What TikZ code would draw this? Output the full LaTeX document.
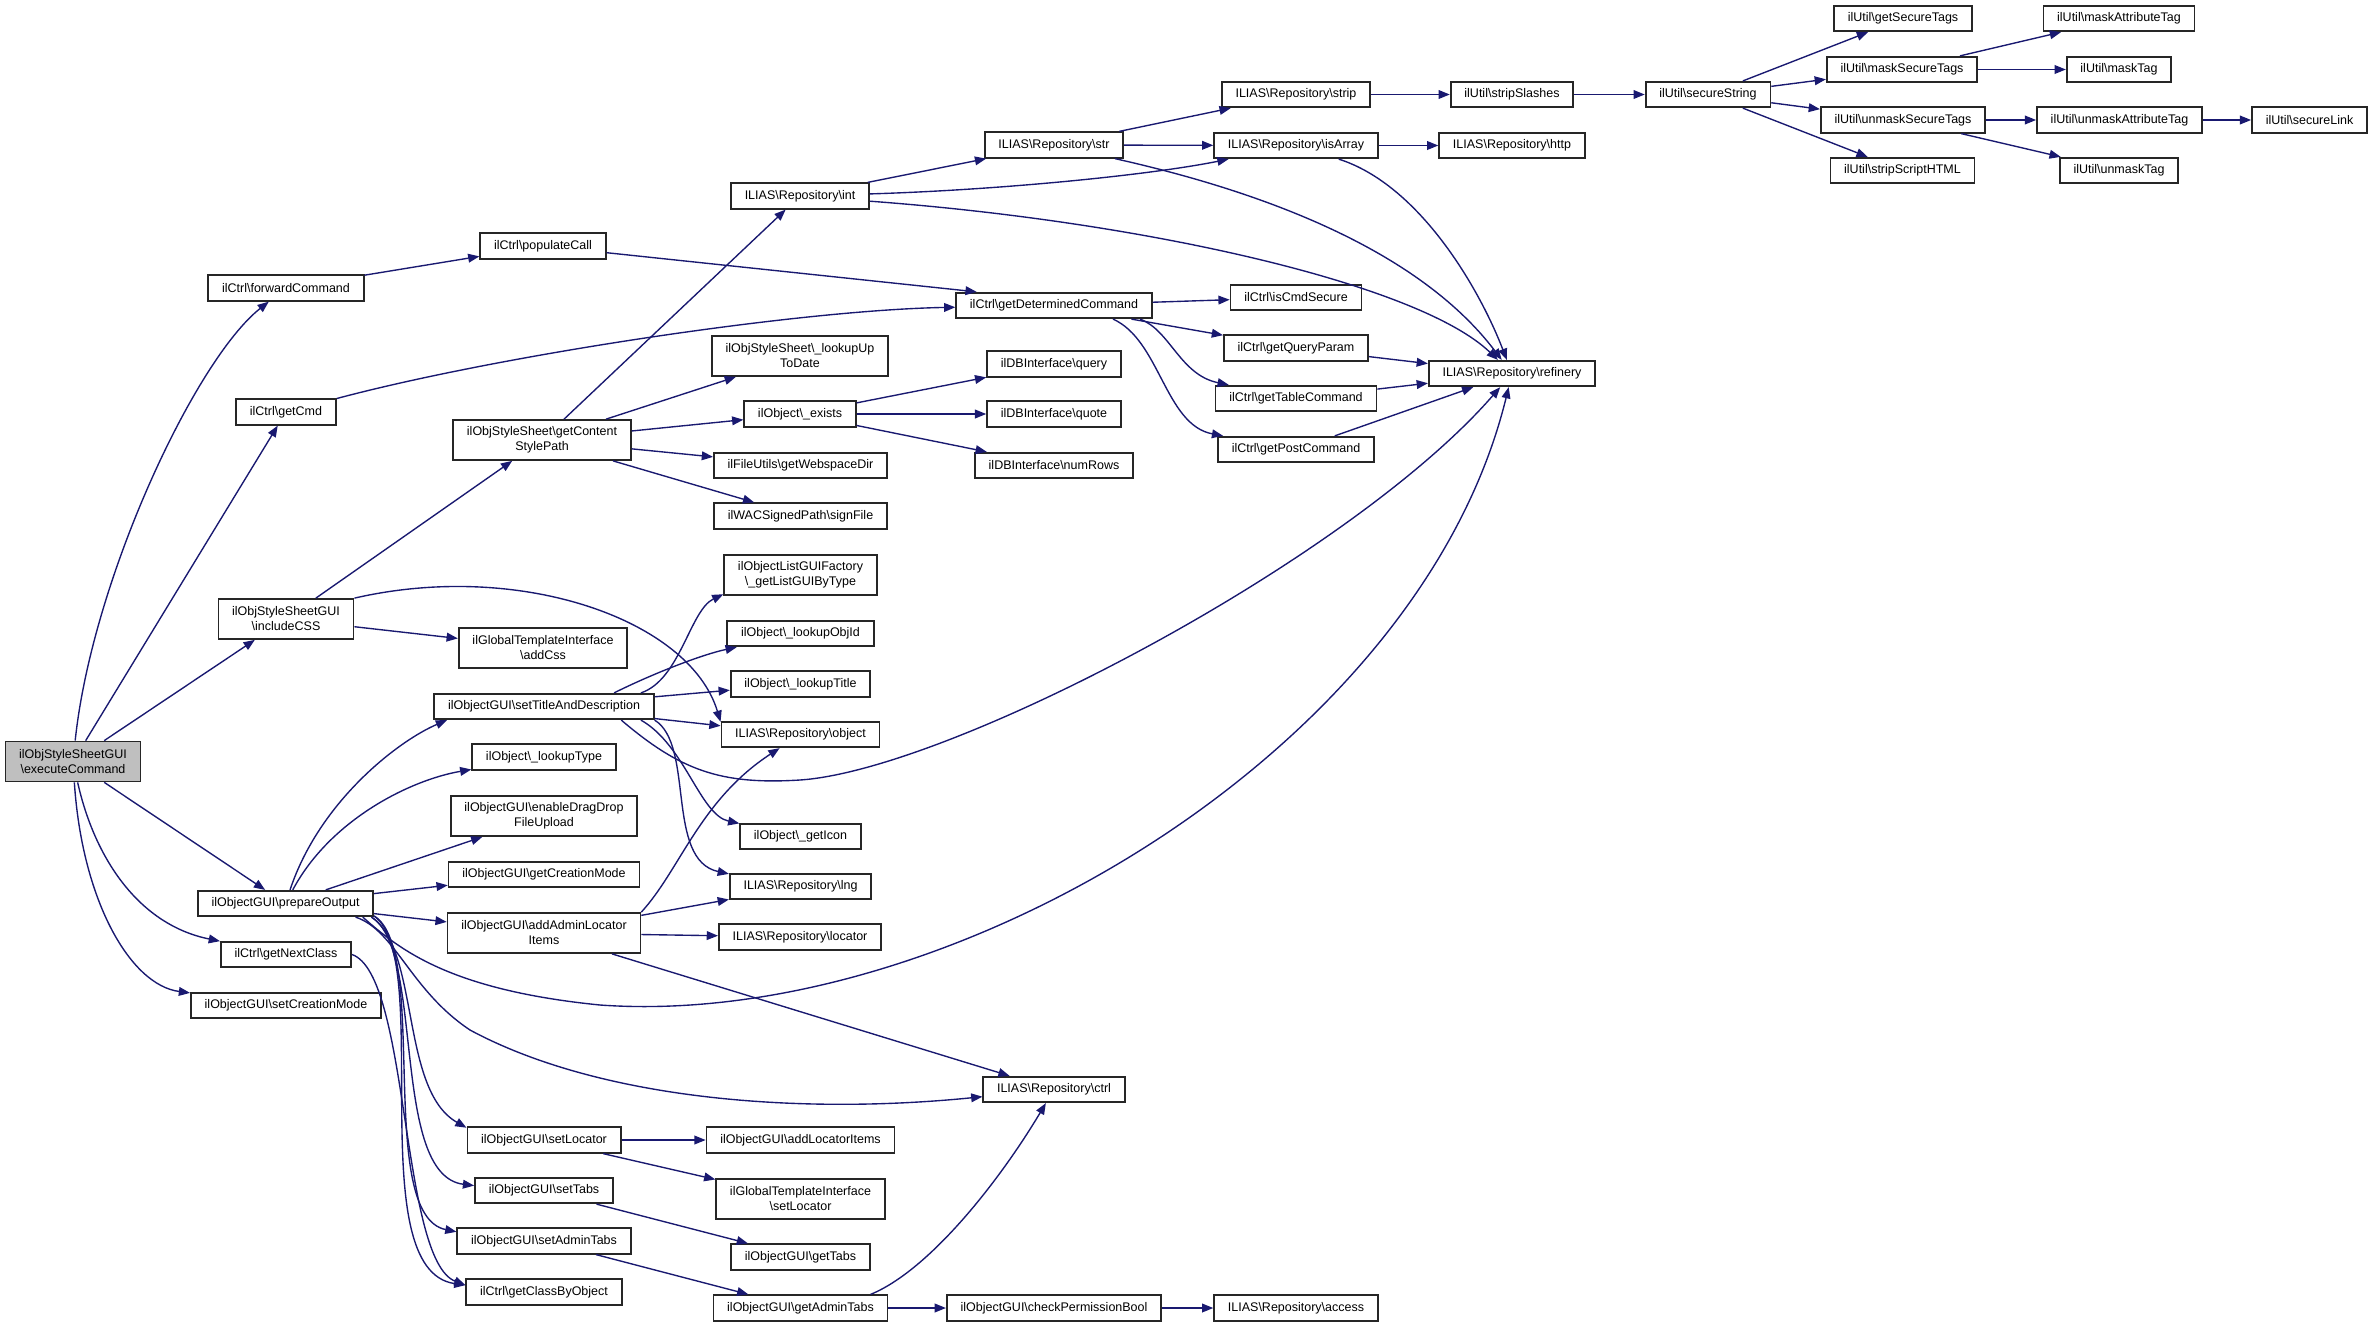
\documentclass[tikz,border=0pt]{standalone}
\usepackage{fontspec}
\setmainfont{Liberation Sans}
\usetikzlibrary{arrows.meta}
\definecolor{callblue}{HTML}{191970}
\newcommand{\bsl}{\textbackslash}
\begin{document}
\begin{tikzpicture}
        [
            x=0.8pt, y=-0.8pt,
            fn/.style={rectangle, draw=black!85, line width=1.4pt, fill=white, font=\fontsize{10}{12}\selectfont, inner xsep=11pt, inner ysep=2pt, minimum height=20.4pt, align=center},
            fntwo/.style={fn, minimum height=32pt},
            call/.style={draw=callblue, line width=1.1pt, -{Triangle[length=9pt,width=7pt]}}
        ]
        \useasboundingbox (0,0) rectangle (2372,1327);
        % caller
        \node[fntwo, fill=gray!50] (exec) at (73,761.5) {ilObjStyleSheetGUI\\\bsl executeCommand};
        % first column
        \node[fn] (fwdcmd) at (286,288) {ilCtrl\bsl forwardCommand};
        \node[fn] (getcmd) at (286,412) {ilCtrl\bsl getCmd};
        \node[fntwo] (inclcss) at (286,619) {ilObjStyleSheetGUI\\\bsl includeCSS};
        \node[fn] (prepout) at (285.5,903.5) {ilObjectGUI\bsl prepareOutput};
        \node[fn] (nextcls) at (286,954.5) {ilCtrl\bsl getNextClass};
        \node[fn] (setcrmode) at (286,1005.5) {ilObjectGUI\bsl setCreationMode};
        % second column
        \node[fn] (popcall) at (543,246) {ilCtrl\bsl populateCall};
        \node[fntwo] (stylepath) at (542,440) {ilObjStyleSheet\bsl getContent\\StylePath};
        \node[fntwo] (addcss) at (543,648) {ilGlobalTemplateInterface\\\bsl addCss};
        \node[fn] (settitle) at (544,706.5) {ilObjectGUI\bsl setTitleAndDescription};
        \node[fn] (lookuptype) at (544,757) {ilObject\bsl\_lookupType};
        \node[fntwo] (dragdrop) at (544,816) {ilObjectGUI\bsl enableDragDrop\\FileUpload};
        \node[fn] (getcrmode) at (544,874.5) {ilObjectGUI\bsl getCreationMode};
        \node[fntwo] (adminloc) at (544,933) {ilObjectGUI\bsl addAdminLocator\\Items};
        \node[fn] (setloc) at (544,1140) {ilObjectGUI\bsl setLocator};
        \node[fn] (settabs) at (544,1190.5) {ilObjectGUI\bsl setTabs};
        \node[fn] (setadmtabs) at (544,1241) {ilObjectGUI\bsl setAdminTabs};
        \node[fn] (clsbyobj) at (544,1292) {ilCtrl\bsl getClassByObject};
        % third column
        \node[fn] (repint) at (800,196) {ILIAS\bsl Repository\bsl int};
        \node[fntwo] (uptodate) at (800,356) {ilObjStyleSheet\bsl\_lookupUp\\ToDate};
        \node[fn] (exists) at (800,414) {ilObject\bsl\_exists};
        \node[fn] (webdir) at (800.5,465.5) {ilFileUtils\bsl getWebspaceDir};
        \node[fn] (signfile) at (800.5,516) {ilWACSignedPath\bsl signFile};
        \node[fntwo] (listgui) at (800.5,575) {ilObjectListGUIFactory\\\bsl\_getListGUIByType};
        \node[fn] (objid) at (800.5,633.5) {ilObject\bsl\_lookupObjId};
        \node[fn] (lookuptitle) at (800.5,684) {ilObject\bsl\_lookupTitle};
        \node[fn] (repobject) at (800.5,734.5) {ILIAS\bsl Repository\bsl object};
        \node[fn] (geticon) at (800.5,836.5) {ilObject\bsl\_getIcon};
        \node[fn] (replng) at (800.5,886.5) {ILIAS\bsl Repository\bsl lng};
        \node[fn] (reploc) at (800,937) {ILIAS\bsl Repository\bsl locator};
        \node[fn] (addlocitems) at (800.5,1140) {ilObjectGUI\bsl addLocatorItems};
        \node[fntwo] (gtisetloc) at (800.5,1199) {ilGlobalTemplateInterface\\\bsl setLocator};
        \node[fn] (gettabs) at (800.5,1257) {ilObjectGUI\bsl getTabs};
        \node[fn] (admtabs) at (800.5,1308) {ilObjectGUI\bsl getAdminTabs};
        % fourth column
        \node[fn] (repstr) at (1054,145) {ILIAS\bsl Repository\bsl str};
        \node[fn] (detcmd) at (1054,305.5) {ilCtrl\bsl getDeterminedCommand};
        \node[fn] (dbquery) at (1054,364) {ilDBInterface\bsl query};
        \node[fn] (dbquote) at (1054,414) {ilDBInterface\bsl quote};
        \node[fn] (dbnumrows) at (1054,465.5) {ilDBInterface\bsl numRows};
        \node[fn] (repctrl) at (1054,1089.5) {ILIAS\bsl Repository\bsl ctrl};
        \node[fn] (permbool) at (1054,1308) {ilObjectGUI\bsl checkPermissionBool};
        % fifth column
        \node[fn] (repstrip) at (1296,94.5) {ILIAS\bsl Repository\bsl strip};
        \node[fn] (isarray) at (1296,145.5) {ILIAS\bsl Repository\bsl isArray};
        \node[fn] (cmdsecure) at (1296,297.5) {ilCtrl\bsl isCmdSecure};
        \node[fn] (queryparam) at (1296,348) {ilCtrl\bsl getQueryParam};
        \node[fn] (tablecmd) at (1296,398.5) {ilCtrl\bsl getTableCommand};
        \node[fn] (postcmd) at (1296,449.5) {ilCtrl\bsl getPostCommand};
        \node[fn] (repaccess) at (1296,1308) {ILIAS\bsl Repository\bsl access};
        % sixth column
        \node[fn] (stripsl) at (1512,94.5) {ilUtil\bsl stripSlashes};
        \node[fn] (rephttp) at (1512,145.5) {ILIAS\bsl Repository\bsl http};
        \node[fn] (refinery) at (1512,373.5) {ILIAS\bsl Repository\bsl refinery};
        % ilUtil
        \node[fn] (securestr) at (1708,94.5) {ilUtil\bsl secureString};
        \node[fn] (gettags) at (1903,18.5) {ilUtil\bsl getSecureTags};
        \node[fn] (masktags) at (1902,69.5) {ilUtil\bsl maskSecureTags};
        \node[fn] (unmasktags) at (1903,120) {ilUtil\bsl unmaskSecureTags};
        \node[fn] (stripscript) at (1902.5,170.5) {ilUtil\bsl stripScriptHTML};
        \node[fn] (maskattr) at (2119,18.5) {ilUtil\bsl maskAttributeTag};
        \node[fn] (masktag) at (2119,69.5) {ilUtil\bsl maskTag};
        \node[fn] (unmaskattr) at (2119.5,120) {ilUtil\bsl unmaskAttributeTag};
        \node[fn] (unmasktag) at (2119,170.5) {ilUtil\bsl unmaskTag};
        \node[fn] (securelink) at (2309.5,120) {ilUtil\bsl secureLink};
        % calls of executeCommand
        \draw[call] (exec) .. controls (92,580) and (195,360) .. (fwdcmd);
        \draw[call] (exec) -- (getcmd);
        \draw[call] (exec) -- (inclcss);
        \draw[call] (exec) -- (prepout);
        \draw[call] (exec) .. controls (95,860) and (140,925) .. (nextcls);
        \draw[call] (exec) .. controls (82,900) and (130,985) .. (setcrmode);
        % ilCtrl
        \draw[call] (fwdcmd) -- (popcall);
        \draw[call] (popcall) -- (detcmd.170);
        \draw[call] (getcmd) .. controls (500,355) and (800,310) .. (detcmd);
        \draw[call] (detcmd) -- (cmdsecure);
        \draw[call] (detcmd) -- (queryparam);
        \draw[call] (detcmd.-9) .. controls (1170,330) and (1180,375) .. (tablecmd);
        \draw[call] (detcmd.-13) .. controls (1160,340) and (1165,425) .. (postcmd);
        \draw[call] (queryparam) -- (refinery);
        \draw[call] (tablecmd) -- (refinery);
        \draw[call] (postcmd) -- (refinery);
        \draw[call] (nextcls.east) .. controls (410,975) and (400,1260) .. (clsbyobj.175);
        % includeCSS
        \draw[call] (inclcss) -- (stylepath);
        \draw[call] (inclcss) -- (addcss);
        \draw[call] (inclcss.north east) .. controls (520,560) and (690,620) .. (repobject.171);
        \draw[call] (stylepath) -- (repint);
        \draw[call] (stylepath) -- (uptodate);
        \draw[call] (stylepath) -- (exists);
        \draw[call] (stylepath) -- (webdir);
        \draw[call] (stylepath) -- (signfile);
        \draw[call] (exists) -- (dbquery);
        \draw[call] (exists) -- (dbquote);
        \draw[call] (exists) -- (dbnumrows);
        % Repository
        \draw[call] (repint) -- (repstr);
        \draw[call] (repint) .. controls (1000,190) and (1150,175) .. (isarray);
        \draw[call] (repint) .. controls (1150,222) and (1420,285) .. (refinery);
        \draw[call] (repstr) -- (repstrip);
        \draw[call] (repstr) -- (isarray);
        \draw[call] (repstr) .. controls (1300,200) and (1430,265) .. (refinery);
        \draw[call] (isarray) -- (rephttp);
        \draw[call] (isarray) .. controls (1420,185) and (1480,290) .. (refinery);
        % ilUtil
        \draw[call] (repstrip) -- (stripsl);
        \draw[call] (stripsl) -- (securestr);
        \draw[call] (securestr) -- (gettags);
        \draw[call] (securestr) -- (masktags);
        \draw[call] (securestr) -- (unmasktags);
        \draw[call] (securestr) -- (stripscript);
        \draw[call] (masktags) -- (maskattr);
        \draw[call] (masktags) -- (masktag);
        \draw[call] (unmasktags) -- (unmaskattr);
        \draw[call] (unmasktags) -- (unmasktag);
        \draw[call] (unmaskattr) -- (securelink);
        % setTitleAndDescription
        \draw[call] (settitle.8) .. controls (680,680) and (690,610) .. (listgui.194);
        \draw[call] (settitle.11) .. controls (650,675) and (700,655) .. (objid);
        \draw[call] (settitle) -- (lookuptitle);
        \draw[call] (settitle) -- (repobject);
        \draw[call] (settitle.-8) .. controls (685,745) and (700,815) .. (geticon);
        \draw[call] (settitle.-7) .. controls (695,745) and (665,860) .. (replng.170);
        \draw[call] (settitle.-10) .. controls (680,770) and (720,785) .. (800,780) .. controls (950,770) and (1350,560) .. (refinery);
        % prepareOutput
        \draw[call] (prepout) .. controls (320,800) and (400,740) .. (settitle.188);
        \draw[call] (prepout) .. controls (330,820) and (410,780) .. (lookuptype);
        \draw[call] (prepout) -- (dragdrop);
        \draw[call] (prepout) -- (getcrmode);
        \draw[call] (prepout) -- (adminloc);
        \draw[call] (prepout.-10) .. controls (400,950) and (450,990) .. (600,1005) .. controls (950,1030) and (1420,750) .. (refinery);
        \draw[call] (prepout.-11) .. controls (395,930) and (410,990) .. (470,1030) .. controls (600,1100) and (800,1115) .. (repctrl);
        \draw[call] (prepout.-9.5) .. controls (420,950) and (400,1090) .. (setloc.171);
        \draw[call] (prepout.-9) .. controls (425,950) and (390,1175) .. (settabs.176);
        \draw[call] (prepout.-8.7) .. controls (430,950) and (375,1215) .. (setadmtabs.174);
        \draw[call] (prepout.-8.3) .. controls (435,960) and (360,1270) .. (clsbyobj.175);
        % addAdminLocatorItems
        \draw[call] (adminloc) -- (replng);
        \draw[call] (adminloc) -- (reploc);
        \draw[call] (adminloc) -- (repctrl);
        \draw[call] (adminloc.north east) .. controls (680,870) and (700,800) .. (repobject);
        % locator and tabs
        \draw[call] (setloc) -- (addlocitems);
        \draw[call] (setloc) -- (gtisetloc);
        \draw[call] (settabs) -- (gettabs);
        \draw[call] (setadmtabs) -- (admtabs);
        \draw[call] (admtabs.11) .. controls (930,1270) and (1000,1180) .. (repctrl);
        \draw[call] (admtabs) -- (permbool);
        \draw[call] (permbool) -- (repaccess);
    \end{tikzpicture}
\end{document}
